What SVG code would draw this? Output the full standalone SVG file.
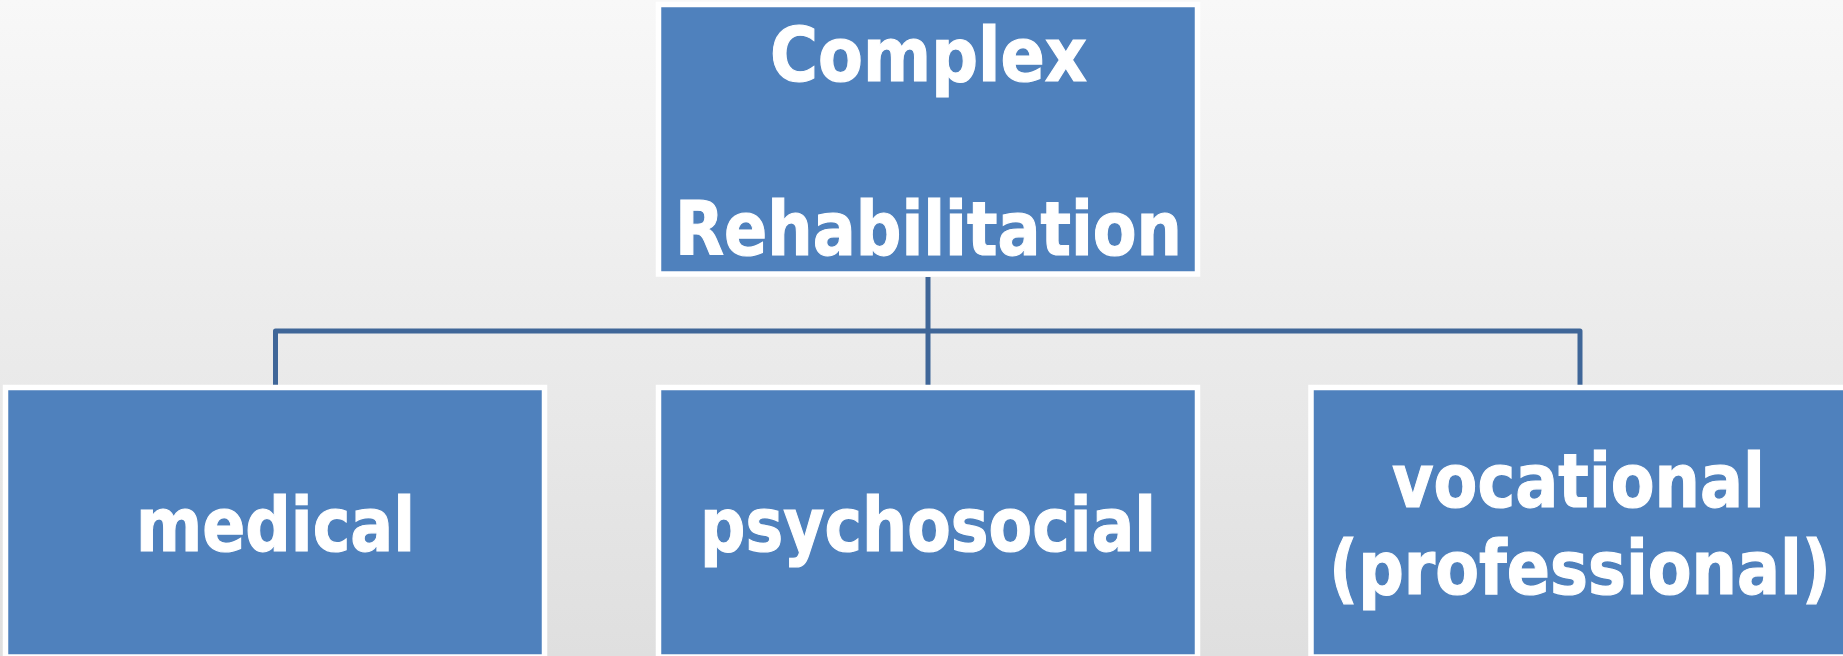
<svg xmlns="http://www.w3.org/2000/svg" width="1843" height="656" viewBox="0 0 1843 656">
  <defs>
    <linearGradient id="bg" x1="0" y1="0" x2="0" y2="1">
      <stop offset="0" stop-color="#F8F8F8"/>
      <stop offset="1" stop-color="#DFDFDF"/>
    </linearGradient>
  </defs>
  <style>
    .box { fill: #4F81BD; stroke: #FFFFFF; stroke-width: 5.5; }
    .lbl { font-family: "DejaVu Sans", Verdana, sans-serif; font-weight: bold; font-size: 75px; fill: #FFFFFF; stroke: #FFFFFF; stroke-width: 1.2; text-anchor: middle; }
    .conn { fill: none; stroke: #3F6698; stroke-width: 5; stroke-linejoin: round; }
  </style>

  <!-- background -->
  <rect x="0" y="0" width="1843" height="656" fill="url(#bg)"/>

  <!-- connectors -->
  <g id="connectors">
    <path class="conn" d="M928 277 V386"/>
    <path class="conn" d="M275.5 386 V331 H1580 V386"/>
  </g>

  <!-- root node -->
  <g id="node-complex-rehabilitation">
    <rect class="box" x="658.5" y="4.5" width="539" height="269.5"/>
    <text class="lbl" x="928.5" y="81" textLength="317" lengthAdjust="spacingAndGlyphs">Complex</text>
    <text class="lbl" x="928.5" y="255" textLength="507" lengthAdjust="spacingAndGlyphs">Rehabilitation</text>
  </g>

  <!-- child nodes -->
  <g id="node-medical">
    <rect class="box" x="5.5" y="387.5" width="539" height="269.5"/>
    <text class="lbl" x="275.5" y="551" textLength="279" lengthAdjust="spacingAndGlyphs">medical</text>
  </g>

  <g id="node-psychosocial">
    <rect class="box" x="658.5" y="387.5" width="539" height="269.5"/>
    <text class="lbl" x="928" y="551" textLength="456" lengthAdjust="spacingAndGlyphs">psychosocial</text>
  </g>

  <g id="node-vocational">
    <rect class="box" x="1311" y="387.5" width="539" height="269.5"/>
    <text class="lbl" x="1578.5" y="507" textLength="373" lengthAdjust="spacingAndGlyphs">vocational</text>
    <text class="lbl" x="1580" y="594" textLength="502" lengthAdjust="spacingAndGlyphs">(professional)</text>
  </g>
</svg>
